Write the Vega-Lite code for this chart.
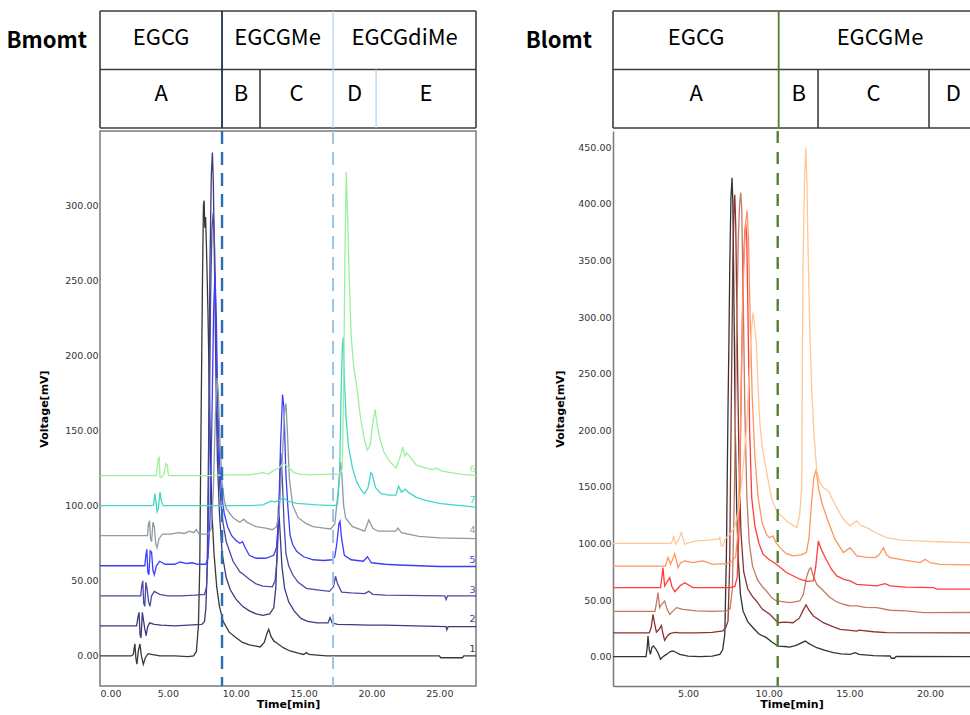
{
"$schema": "https://vega.github.io/schema/vega-lite/v6.json",
"background": "white",
"padding": {"left": 6, "top": 10, "right": 0, "bottom": 0},
"spacing": 48,
"resolve": {"scale": {"color": "independent"}},
"config": {"view": {"stroke": null}, "font": "DejaVu Sans"},
"datasets": {
"L": [
{"s":"1","t":0,"v":0},{"s":"1","t":2.3,"v":0},{"s":"1","t":2.45,"v":1},{"s":"1","t":2.57,"v":8},{"s":"1","t":2.65,"v":-2},{"s":"1","t":2.72,"v":-5.5},{"s":"1","t":2.82,"v":3},{"s":"1","t":2.94,"v":8},{"s":"1","t":3.05,"v":0},{"s":"1","t":3.19,"v":-5.5},{"s":"1","t":3.35,"v":-1},{"s":"1","t":3.55,"v":1.5},{"s":"1","t":3.8,"v":1},{"s":"1","t":4.4,"v":0},{"s":"1","t":5.5,"v":0},{"s":"1","t":6.5,"v":-0.5},{"s":"1","t":6.9,"v":0},{"s":"1","t":7.1,"v":3},{"s":"1","t":7.25,"v":20},{"s":"1","t":7.35,"v":60},{"s":"1","t":7.45,"v":160},{"s":"1","t":7.55,"v":250},{"s":"1","t":7.62,"v":300},{"s":"1","t":7.67,"v":303},{"s":"1","t":7.72,"v":285},{"s":"1","t":7.78,"v":292},{"s":"1","t":7.85,"v":270},{"s":"1","t":7.95,"v":230},{"s":"1","t":8.05,"v":180},{"s":"1","t":8.15,"v":130},{"s":"1","t":8.25,"v":95},{"s":"1","t":8.4,"v":68},{"s":"1","t":8.6,"v":46},{"s":"1","t":8.8,"v":33},{"s":"1","t":9.07,"v":23},{"s":"1","t":9.5,"v":16},{"s":"1","t":10.05,"v":12},{"s":"1","t":10.5,"v":9},{"s":"1","t":11.0,"v":7.3},{"s":"1","t":11.5,"v":6.5},{"s":"1","t":11.8,"v":6},{"s":"1","t":12.1,"v":9},{"s":"1","t":12.3,"v":15},{"s":"1","t":12.43,"v":17.7},{"s":"1","t":12.6,"v":13},{"s":"1","t":12.8,"v":10},{"s":"1","t":13.0,"v":8.8},{"s":"1","t":13.5,"v":5.5},{"s":"1","t":14.0,"v":3.3},{"s":"1","t":14.6,"v":1.8},{"s":"1","t":15.0,"v":1},{"s":"1","t":15.2,"v":2.2},{"s":"1","t":15.4,"v":1},{"s":"1","t":16.0,"v":0.5},{"s":"1","t":16.7,"v":0},{"s":"1","t":25.0,"v":0},{"s":"1","t":25.1,"v":-1.2},{"s":"1","t":26.7,"v":-1.2},{"s":"1","t":26.8,"v":0},{"s":"1","t":27.7,"v":0},
{"s":"2","t":0,"v":20},{"s":"2","t":2.7,"v":20},{"s":"2","t":2.8,"v":26},{"s":"2","t":2.88,"v":29},{"s":"2","t":2.95,"v":14},{"s":"2","t":3.02,"v":12},{"s":"2","t":3.12,"v":29},{"s":"2","t":3.2,"v":24},{"s":"2","t":3.3,"v":18},{"s":"2","t":3.4,"v":13.5},{"s":"2","t":3.5,"v":19},{"s":"2","t":3.65,"v":22},{"s":"2","t":4.0,"v":21},{"s":"2","t":4.5,"v":20.5},{"s":"2","t":5.5,"v":20},{"s":"2","t":6.5,"v":20.5},{"s":"2","t":7.5,"v":21},{"s":"2","t":7.7,"v":23},{"s":"2","t":7.8,"v":32},{"s":"2","t":7.9,"v":60},{"s":"2","t":8.0,"v":140},{"s":"2","t":8.1,"v":260},{"s":"2","t":8.2,"v":320},{"s":"2","t":8.28,"v":335},{"s":"2","t":8.35,"v":315},{"s":"2","t":8.45,"v":250},{"s":"2","t":8.55,"v":180},{"s":"2","t":8.65,"v":130},{"s":"2","t":8.8,"v":95},{"s":"2","t":9.0,"v":68},{"s":"2","t":9.3,"v":52},{"s":"2","t":9.6,"v":44},{"s":"2","t":10.0,"v":38},{"s":"2","t":10.5,"v":33},{"s":"2","t":11.0,"v":30},{"s":"2","t":11.5,"v":28},{"s":"2","t":12.0,"v":27},{"s":"2","t":12.5,"v":28},{"s":"2","t":12.8,"v":32},{"s":"2","t":12.95,"v":45},{"s":"2","t":13.05,"v":70},{"s":"2","t":13.15,"v":100},{"s":"2","t":13.25,"v":85},{"s":"2","t":13.4,"v":60},{"s":"2","t":13.6,"v":45},{"s":"2","t":13.9,"v":36},{"s":"2","t":14.3,"v":30},{"s":"2","t":14.8,"v":25},{"s":"2","t":15.3,"v":23},{"s":"2","t":16.0,"v":22},{"s":"2","t":16.8,"v":22},{"s":"2","t":16.95,"v":25.5},{"s":"2","t":17.1,"v":22},{"s":"2","t":17.5,"v":21},{"s":"2","t":18.5,"v":20.8},{"s":"2","t":19.8,"v":20.5},{"s":"2","t":21,"v":20.5},{"s":"2","t":25.5,"v":19.5},{"s":"2","t":25.55,"v":17.5},{"s":"2","t":25.65,"v":19.5},{"s":"2","t":27.7,"v":19.5},
{"s":"3","t":0,"v":40},{"s":"3","t":3.0,"v":40},{"s":"3","t":3.08,"v":47},{"s":"3","t":3.15,"v":50},{"s":"3","t":3.22,"v":35},{"s":"3","t":3.3,"v":33},{"s":"3","t":3.38,"v":49},{"s":"3","t":3.48,"v":44},{"s":"3","t":3.58,"v":36},{"s":"3","t":3.68,"v":33},{"s":"3","t":3.8,"v":40},{"s":"3","t":4.0,"v":43},{"s":"3","t":4.4,"v":41},{"s":"3","t":5,"v":40},{"s":"3","t":6,"v":40},{"s":"3","t":7,"v":40.5},{"s":"3","t":7.7,"v":41},{"s":"3","t":7.85,"v":46},{"s":"3","t":7.95,"v":70},{"s":"3","t":8.05,"v":150},{"s":"3","t":8.15,"v":240},{"s":"3","t":8.25,"v":285},{"s":"3","t":8.35,"v":295},{"s":"3","t":8.45,"v":270},{"s":"3","t":8.55,"v":210},{"s":"3","t":8.65,"v":150},{"s":"3","t":8.8,"v":115},{"s":"3","t":9.0,"v":92},{"s":"3","t":9.3,"v":76},{"s":"3","t":9.8,"v":63},{"s":"3","t":10.3,"v":56},{"s":"3","t":10.6,"v":54},{"s":"3","t":11.0,"v":51},{"s":"3","t":11.5,"v":48},{"s":"3","t":12.0,"v":46.5},{"s":"3","t":12.7,"v":46},{"s":"3","t":12.9,"v":50},{"s":"3","t":13.05,"v":65},{"s":"3","t":13.2,"v":100},{"s":"3","t":13.32,"v":135},{"s":"3","t":13.42,"v":120},{"s":"3","t":13.55,"v":90},{"s":"3","t":13.7,"v":68},{"s":"3","t":13.9,"v":60},{"s":"3","t":14.2,"v":54},{"s":"3","t":14.6,"v":49},{"s":"3","t":15.2,"v":45},{"s":"3","t":16.0,"v":44},{"s":"3","t":16.9,"v":43},{"s":"3","t":17.2,"v":46},{"s":"3","t":17.35,"v":53},{"s":"3","t":17.5,"v":48},{"s":"3","t":17.8,"v":42.5},{"s":"3","t":18.5,"v":42},{"s":"3","t":19.5,"v":41.5},{"s":"3","t":19.8,"v":43},{"s":"3","t":20.1,"v":41},{"s":"3","t":21,"v":40.5},{"s":"3","t":25.4,"v":40},{"s":"3","t":25.5,"v":37.5},{"s":"3","t":25.6,"v":40},{"s":"3","t":27.7,"v":40},
{"s":"5","t":0,"v":60},{"s":"5","t":3.3,"v":60},{"s":"5","t":3.38,"v":67},{"s":"5","t":3.45,"v":71},{"s":"5","t":3.52,"v":56},{"s":"5","t":3.6,"v":54},{"s":"5","t":3.7,"v":70},{"s":"5","t":3.8,"v":69},{"s":"5","t":3.9,"v":57},{"s":"5","t":4.0,"v":54},{"s":"5","t":4.15,"v":60},{"s":"5","t":4.4,"v":63},{"s":"5","t":4.8,"v":61},{"s":"5","t":5.5,"v":61},{"s":"5","t":5.9,"v":62.5},{"s":"5","t":6.4,"v":61.5},{"s":"5","t":6.8,"v":62},{"s":"5","t":7.2,"v":61},{"s":"5","t":7.8,"v":61},{"s":"5","t":7.95,"v":65},{"s":"5","t":8.1,"v":90},{"s":"5","t":8.25,"v":160},{"s":"5","t":8.37,"v":230},{"s":"5","t":8.47,"v":255},{"s":"5","t":8.57,"v":225},{"s":"5","t":8.67,"v":170},{"s":"5","t":8.8,"v":130},{"s":"5","t":8.95,"v":108},{"s":"5","t":9.15,"v":95},{"s":"5","t":9.4,"v":86},{"s":"5","t":9.7,"v":80},{"s":"5","t":10.0,"v":77},{"s":"5","t":10.3,"v":75},{"s":"5","t":10.5,"v":76},{"s":"5","t":10.7,"v":72},{"s":"5","t":11.0,"v":67},{"s":"5","t":11.5,"v":65},{"s":"5","t":12.2,"v":65},{"s":"5","t":12.8,"v":67},{"s":"5","t":13.0,"v":72},{"s":"5","t":13.15,"v":90},{"s":"5","t":13.3,"v":140},{"s":"5","t":13.45,"v":174},{"s":"5","t":13.55,"v":165},{"s":"5","t":13.7,"v":120},{"s":"5","t":13.85,"v":98},{"s":"5","t":14.0,"v":80.5},{"s":"5","t":14.2,"v":74},{"s":"5","t":14.5,"v":69.5},{"s":"5","t":15.0,"v":66},{"s":"5","t":15.7,"v":64},{"s":"5","t":16.5,"v":63.5},{"s":"5","t":17.1,"v":64},{"s":"5","t":17.3,"v":66},{"s":"5","t":17.45,"v":75},{"s":"5","t":17.6,"v":88},{"s":"5","t":17.68,"v":89.5},{"s":"5","t":17.8,"v":78},{"s":"5","t":18.0,"v":67},{"s":"5","t":18.5,"v":64},{"s":"5","t":19.4,"v":63},{"s":"5","t":19.7,"v":66},{"s":"5","t":20.0,"v":62},{"s":"5","t":21,"v":61},{"s":"5","t":22,"v":60.5},{"s":"5","t":23.5,"v":60},{"s":"5","t":25,"v":59.5},{"s":"5","t":27.7,"v":59.5},
{"s":"4","t":0,"v":80},{"s":"4","t":3.5,"v":80},{"s":"4","t":3.58,"v":88},{"s":"4","t":3.65,"v":90},{"s":"4","t":3.72,"v":78},{"s":"4","t":3.8,"v":76},{"s":"4","t":3.9,"v":89},{"s":"4","t":4.0,"v":86},{"s":"4","t":4.1,"v":75},{"s":"4","t":4.2,"v":72},{"s":"4","t":4.35,"v":78},{"s":"4","t":4.6,"v":81},{"s":"4","t":5.2,"v":81},{"s":"4","t":5.8,"v":82},{"s":"4","t":6.2,"v":81.5},{"s":"4","t":6.6,"v":83},{"s":"4","t":6.9,"v":82},{"s":"4","t":7.1,"v":84},{"s":"4","t":7.3,"v":81},{"s":"4","t":8.0,"v":81},{"s":"4","t":8.2,"v":85},{"s":"4","t":8.35,"v":110},{"s":"4","t":8.5,"v":160},{"s":"4","t":8.62,"v":185},{"s":"4","t":8.72,"v":175},{"s":"4","t":8.85,"v":140},{"s":"4","t":9.0,"v":115},{"s":"4","t":9.15,"v":104},{"s":"4","t":9.3,"v":98},{"s":"4","t":9.8,"v":92},{"s":"4","t":10.3,"v":89},{"s":"4","t":10.6,"v":91},{"s":"4","t":10.8,"v":89},{"s":"4","t":11.5,"v":86},{"s":"4","t":12.2,"v":85},{"s":"4","t":12.7,"v":84},{"s":"4","t":13.0,"v":86},{"s":"4","t":13.2,"v":95},{"s":"4","t":13.45,"v":135},{"s":"4","t":13.6,"v":162},{"s":"4","t":13.7,"v":168},{"s":"4","t":13.8,"v":150},{"s":"4","t":13.95,"v":118},{"s":"4","t":14.2,"v":100},{"s":"4","t":14.6,"v":92},{"s":"4","t":15.2,"v":88},{"s":"4","t":15.7,"v":86},{"s":"4","t":16.5,"v":85},{"s":"4","t":17.0,"v":84.5},{"s":"4","t":17.3,"v":88},{"s":"4","t":17.55,"v":110},{"s":"4","t":17.72,"v":129},{"s":"4","t":17.82,"v":120},{"s":"4","t":17.95,"v":100},{"s":"4","t":18.1,"v":91.6},{"s":"4","t":18.6,"v":86},{"s":"4","t":19.5,"v":83},{"s":"4","t":19.8,"v":90.5},{"s":"4","t":20.1,"v":85},{"s":"4","t":20.5,"v":83},{"s":"4","t":21.8,"v":83},{"s":"4","t":21.95,"v":85},{"s":"4","t":22.2,"v":82},{"s":"4","t":23.5,"v":79.5},{"s":"4","t":25,"v":78.5},{"s":"4","t":27.7,"v":78},
{"s":"7","t":0,"v":100},{"s":"7","t":3.8,"v":100},{"s":"7","t":3.95,"v":100.5},{"s":"7","t":4.05,"v":108},{"s":"7","t":4.12,"v":103},{"s":"7","t":4.2,"v":96},{"s":"7","t":4.3,"v":98},{"s":"7","t":4.42,"v":109},{"s":"7","t":4.52,"v":103},{"s":"7","t":4.65,"v":100},{"s":"7","t":5.5,"v":100},{"s":"7","t":7,"v":100},{"s":"7","t":8.5,"v":100},{"s":"7","t":9.5,"v":100},{"s":"7","t":11.0,"v":100},{"s":"7","t":12.0,"v":100.5},{"s":"7","t":12.6,"v":103},{"s":"7","t":12.9,"v":102.5},{"s":"7","t":13.3,"v":104},{"s":"7","t":13.5,"v":105.5},{"s":"7","t":13.8,"v":103},{"s":"7","t":14.5,"v":101.5},{"s":"7","t":16.0,"v":100.5},{"s":"7","t":17.3,"v":100},{"s":"7","t":17.5,"v":101},{"s":"7","t":17.65,"v":120},{"s":"7","t":17.75,"v":170},{"s":"7","t":17.85,"v":205},{"s":"7","t":17.92,"v":212},{"s":"7","t":18.0,"v":185},{"s":"7","t":18.13,"v":158},{"s":"7","t":18.3,"v":140},{"s":"7","t":18.6,"v":125},{"s":"7","t":18.9,"v":116},{"s":"7","t":19.2,"v":111},{"s":"7","t":19.5,"v":108},{"s":"7","t":19.75,"v":112},{"s":"7","t":19.95,"v":122},{"s":"7","t":20.05,"v":121},{"s":"7","t":20.3,"v":112},{"s":"7","t":20.7,"v":108},{"s":"7","t":21.3,"v":107},{"s":"7","t":21.8,"v":107},{"s":"7","t":22.0,"v":113},{"s":"7","t":22.2,"v":109},{"s":"7","t":22.5,"v":111},{"s":"7","t":22.7,"v":109},{"s":"7","t":23.3,"v":105.5},{"s":"7","t":24.0,"v":103.5},{"s":"7","t":25.0,"v":101.5},{"s":"7","t":26,"v":100.5},{"s":"7","t":27.7,"v":99},
{"s":"6","t":0,"v":120},{"s":"6","t":4.15,"v":120},{"s":"6","t":4.28,"v":131},{"s":"6","t":4.36,"v":132},{"s":"6","t":4.42,"v":119},{"s":"6","t":4.55,"v":119},{"s":"6","t":4.72,"v":121},{"s":"6","t":4.85,"v":128},{"s":"6","t":4.95,"v":127},{"s":"6","t":5.05,"v":120},{"s":"6","t":6,"v":120},{"s":"6","t":8,"v":120},{"s":"6","t":9.5,"v":120.5},{"s":"6","t":11,"v":120.5},{"s":"6","t":12.0,"v":122},{"s":"6","t":12.4,"v":121},{"s":"6","t":12.8,"v":123.5},{"s":"6","t":13.2,"v":125},{"s":"6","t":13.5,"v":128.5},{"s":"6","t":13.8,"v":126},{"s":"6","t":14.3,"v":122},{"s":"6","t":14.7,"v":121},{"s":"6","t":15.5,"v":120.5},{"s":"6","t":17.1,"v":121},{"s":"6","t":17.7,"v":121},{"s":"6","t":17.85,"v":125},{"s":"6","t":17.95,"v":180},{"s":"6","t":18.05,"v":270},{"s":"6","t":18.14,"v":322},{"s":"6","t":18.22,"v":300},{"s":"6","t":18.35,"v":255},{"s":"6","t":18.5,"v":213},{"s":"6","t":18.7,"v":192},{"s":"6","t":18.9,"v":180},{"s":"6","t":19.2,"v":158},{"s":"6","t":19.5,"v":143},{"s":"6","t":19.7,"v":137},{"s":"6","t":19.9,"v":140},{"s":"6","t":20.1,"v":155},{"s":"6","t":20.27,"v":164},{"s":"6","t":20.45,"v":152},{"s":"6","t":20.6,"v":145},{"s":"6","t":20.9,"v":136},{"s":"6","t":21.3,"v":130},{"s":"6","t":21.8,"v":125},{"s":"6","t":22.1,"v":132},{"s":"6","t":22.3,"v":139},{"s":"6","t":22.45,"v":133},{"s":"6","t":22.6,"v":135},{"s":"6","t":22.8,"v":133},{"s":"6","t":23.3,"v":127},{"s":"6","t":24.0,"v":125},{"s":"6","t":24.5,"v":124},{"s":"6","t":24.75,"v":125},{"s":"6","t":25.2,"v":123},{"s":"6","t":26.5,"v":121},{"s":"6","t":27.7,"v":120}
],
"R": [
{"s":"R0","t":0.35,"v":0},{"s":"R0","t":2.4,"v":0},{"s":"R0","t":2.47,"v":8},{"s":"R0","t":2.52,"v":18.3},{"s":"R0","t":2.6,"v":6},{"s":"R0","t":2.67,"v":2},{"s":"R0","t":2.76,"v":8},{"s":"R0","t":2.85,"v":9.5},{"s":"R0","t":3.0,"v":7},{"s":"R0","t":3.15,"v":3},{"s":"R0","t":3.3,"v":-2.3},{"s":"R0","t":3.45,"v":0},{"s":"R0","t":3.66,"v":2},{"s":"R0","t":3.9,"v":4.5},{"s":"R0","t":4.07,"v":5},{"s":"R0","t":4.3,"v":3.5},{"s":"R0","t":4.49,"v":2},{"s":"R0","t":5.0,"v":0.5},{"s":"R0","t":5.73,"v":0},{"s":"R0","t":6.5,"v":0.5},{"s":"R0","t":6.97,"v":2},{"s":"R0","t":7.15,"v":6},{"s":"R0","t":7.28,"v":19.8},{"s":"R0","t":7.38,"v":90},{"s":"R0","t":7.48,"v":220},{"s":"R0","t":7.53,"v":272},{"s":"R0","t":7.59,"v":346},{"s":"R0","t":7.66,"v":405},{"s":"R0","t":7.73,"v":423},{"s":"R0","t":7.78,"v":400},{"s":"R0","t":7.85,"v":310},{"s":"R0","t":7.93,"v":200},{"s":"R0","t":8.02,"v":130},{"s":"R0","t":8.12,"v":85},{"s":"R0","t":8.25,"v":55},{"s":"R0","t":8.41,"v":40.4},{"s":"R0","t":8.7,"v":31},{"s":"R0","t":9.03,"v":25.6},{"s":"R0","t":9.4,"v":20},{"s":"R0","t":9.86,"v":16.8},{"s":"R0","t":10.2,"v":13},{"s":"R0","t":10.58,"v":9.4},{"s":"R0","t":11.0,"v":9},{"s":"R0","t":11.3,"v":8.5},{"s":"R0","t":11.7,"v":10},{"s":"R0","t":12.0,"v":12},{"s":"R0","t":12.26,"v":13.8},{"s":"R0","t":12.5,"v":11.5},{"s":"R0","t":12.98,"v":7.9},{"s":"R0","t":13.5,"v":5.5},{"s":"R0","t":14.01,"v":3.5},{"s":"R0","t":14.5,"v":2.5},{"s":"R0","t":15.05,"v":2.1},{"s":"R0","t":15.36,"v":3.5},{"s":"R0","t":15.6,"v":2},{"s":"R0","t":16.5,"v":1},{"s":"R0","t":17.53,"v":0.6},{"s":"R0","t":17.6,"v":-1.4},{"s":"R0","t":17.8,"v":-1.4},{"s":"R0","t":17.9,"v":0.3},{"s":"R0","t":22.5,"v":0},
{"s":"R20","t":0.35,"v":21},{"s":"R20","t":2.6,"v":21},{"s":"R20","t":2.72,"v":26},{"s":"R20","t":2.83,"v":37.4},{"s":"R20","t":2.92,"v":30},{"s":"R20","t":3.04,"v":21.6},{"s":"R20","t":3.2,"v":24},{"s":"R20","t":3.35,"v":27.5},{"s":"R20","t":3.45,"v":20},{"s":"R20","t":3.55,"v":14.4},{"s":"R20","t":3.7,"v":18},{"s":"R20","t":3.87,"v":20.3},{"s":"R20","t":4.2,"v":21.5},{"s":"R20","t":4.49,"v":21},{"s":"R20","t":5.5,"v":21},{"s":"R20","t":6.5,"v":21.5},{"s":"R20","t":7.17,"v":22.8},{"s":"R20","t":7.35,"v":26},{"s":"R20","t":7.48,"v":31.6},{"s":"R20","t":7.58,"v":80},{"s":"R20","t":7.68,"v":220},{"s":"R20","t":7.78,"v":350},{"s":"R20","t":7.86,"v":400},{"s":"R20","t":7.9,"v":408},{"s":"R20","t":7.96,"v":380},{"s":"R20","t":8.05,"v":280},{"s":"R20","t":8.15,"v":180},{"s":"R20","t":8.28,"v":110},{"s":"R20","t":8.45,"v":75},{"s":"R20","t":8.7,"v":60},{"s":"R20","t":9.0,"v":53},{"s":"R20","t":9.24,"v":49.2},{"s":"R20","t":9.6,"v":42},{"s":"R20","t":10.07,"v":37.4},{"s":"R20","t":10.58,"v":30},{"s":"R20","t":11.0,"v":30.5},{"s":"R20","t":11.51,"v":30},{"s":"R20","t":11.9,"v":34},{"s":"R20","t":12.1,"v":40},{"s":"R20","t":12.32,"v":45.7},{"s":"R20","t":12.5,"v":41},{"s":"R20","t":12.77,"v":36},{"s":"R20","t":13.39,"v":30},{"s":"R20","t":13.9,"v":27},{"s":"R20","t":14.43,"v":24.1},{"s":"R20","t":14.9,"v":23.5},{"s":"R20","t":15.46,"v":22.6},{"s":"R20","t":15.6,"v":23.5},{"s":"R20","t":16.5,"v":22},{"s":"R20","t":17.32,"v":21.2},{"s":"R20","t":22.5,"v":21},
{"s":"R40","t":0.35,"v":40},{"s":"R40","t":2.95,"v":40},{"s":"R40","t":3.05,"v":48},{"s":"R40","t":3.14,"v":56.5},{"s":"R40","t":3.24,"v":43.3},{"s":"R40","t":3.35,"v":46},{"s":"R40","t":3.55,"v":49.2},{"s":"R40","t":3.7,"v":42},{"s":"R40","t":3.87,"v":37.4},{"s":"R40","t":4.05,"v":40},{"s":"R40","t":4.28,"v":43.3},{"s":"R40","t":4.69,"v":41.8},{"s":"R40","t":5.5,"v":40.5},{"s":"R40","t":6.5,"v":40},{"s":"R40","t":7.38,"v":40.4},{"s":"R40","t":7.6,"v":42},{"s":"R40","t":7.75,"v":60},{"s":"R40","t":7.88,"v":150},{"s":"R40","t":8.0,"v":280},{"s":"R40","t":8.12,"v":370},{"s":"R40","t":8.2,"v":400},{"s":"R40","t":8.27,"v":410},{"s":"R40","t":8.33,"v":395},{"s":"R40","t":8.42,"v":320},{"s":"R40","t":8.52,"v":220},{"s":"R40","t":8.65,"v":140},{"s":"R40","t":8.8,"v":100},{"s":"R40","t":9.0,"v":80},{"s":"R40","t":9.3,"v":68},{"s":"R40","t":9.6,"v":62},{"s":"R40","t":9.86,"v":58},{"s":"R40","t":10.2,"v":52},{"s":"R40","t":10.48,"v":49.2},{"s":"R40","t":11.3,"v":47.7},{"s":"R40","t":11.93,"v":49.2},{"s":"R40","t":12.15,"v":55},{"s":"R40","t":12.34,"v":69.8},{"s":"R40","t":12.5,"v":77},{"s":"R40","t":12.61,"v":78.6},{"s":"R40","t":12.75,"v":72},{"s":"R40","t":12.98,"v":63.9},{"s":"R40","t":13.29,"v":59.5},{"s":"R40","t":13.8,"v":52.2},{"s":"R40","t":14.2,"v":48.5},{"s":"R40","t":14.63,"v":46.3},{"s":"R40","t":15.0,"v":45},{"s":"R40","t":15.46,"v":44.8},{"s":"R40","t":16.0,"v":43.5},{"s":"R40","t":16.7,"v":43.3},{"s":"R40","t":17.53,"v":41},{"s":"R40","t":18.5,"v":40.5},{"s":"R40","t":19.6,"v":38.9},{"s":"R40","t":22.5,"v":39},
{"s":"R60","t":0.35,"v":61},{"s":"R60","t":3.3,"v":61},{"s":"R60","t":3.38,"v":70},{"s":"R60","t":3.45,"v":78.6},{"s":"R60","t":3.55,"v":62.4},{"s":"R60","t":3.7,"v":66},{"s":"R60","t":3.87,"v":69.8},{"s":"R60","t":4.0,"v":62},{"s":"R60","t":4.18,"v":57.4},{"s":"R60","t":4.35,"v":60},{"s":"R60","t":4.49,"v":62.4},{"s":"R60","t":4.8,"v":65.3},{"s":"R60","t":5.31,"v":61},{"s":"R60","t":6.5,"v":61},{"s":"R60","t":7.6,"v":61},{"s":"R60","t":7.9,"v":62},{"s":"R60","t":8.05,"v":70},{"s":"R60","t":8.18,"v":120},{"s":"R60","t":8.3,"v":240},{"s":"R60","t":8.42,"v":340},{"s":"R60","t":8.52,"v":375},{"s":"R60","t":8.58,"v":382},{"s":"R60","t":8.64,"v":370},{"s":"R60","t":8.72,"v":300},{"s":"R60","t":8.82,"v":200},{"s":"R60","t":8.95,"v":140},{"s":"R60","t":9.15,"v":115},{"s":"R60","t":9.4,"v":100},{"s":"R60","t":9.65,"v":90.5},{"s":"R60","t":10.0,"v":86},{"s":"R60","t":10.48,"v":81.6},{"s":"R60","t":11.1,"v":74.3},{"s":"R60","t":11.93,"v":68.4},{"s":"R60","t":12.4,"v":66.5},{"s":"R60","t":12.77,"v":66.9},{"s":"R60","t":12.92,"v":80},{"s":"R60","t":13.08,"v":102.2},{"s":"R60","t":13.25,"v":95},{"s":"R60","t":13.56,"v":86},{"s":"R60","t":13.9,"v":77},{"s":"R60","t":14.22,"v":71.3},{"s":"R60","t":14.7,"v":68},{"s":"R60","t":15.05,"v":66.9},{"s":"R60","t":15.46,"v":63.9},{"s":"R60","t":16.7,"v":62.5},{"s":"R60","t":17.22,"v":64.5},{"s":"R60","t":17.53,"v":62.5},{"s":"R60","t":18.5,"v":61.5},{"s":"R60","t":20.22,"v":61},{"s":"R60","t":20.42,"v":59.6},{"s":"R60","t":22.5,"v":59.6},
{"s":"R80","t":0.35,"v":80},{"s":"R80","t":3.6,"v":80},{"s":"R80","t":3.68,"v":84},{"s":"R80","t":3.76,"v":87.5},{"s":"R80","t":3.91,"v":81.6},{"s":"R80","t":4.05,"v":86},{"s":"R80","t":4.18,"v":91},{"s":"R80","t":4.38,"v":78.6},{"s":"R80","t":4.55,"v":83},{"s":"R80","t":4.8,"v":84.5},{"s":"R80","t":5.31,"v":83},{"s":"R80","t":5.6,"v":84},{"s":"R80","t":5.93,"v":84.5},{"s":"R80","t":6.55,"v":81.6},{"s":"R80","t":7.0,"v":82},{"s":"R80","t":7.38,"v":82},{"s":"R80","t":7.7,"v":84},{"s":"R80","t":7.95,"v":88},{"s":"R80","t":8.1,"v":110},{"s":"R80","t":8.25,"v":200},{"s":"R80","t":8.4,"v":320},{"s":"R80","t":8.55,"v":380},{"s":"R80","t":8.66,"v":394},{"s":"R80","t":8.75,"v":370},{"s":"R80","t":8.85,"v":300},{"s":"R80","t":8.98,"v":230},{"s":"R80","t":9.15,"v":175},{"s":"R80","t":9.35,"v":140},{"s":"R80","t":9.6,"v":118},{"s":"R80","t":9.86,"v":108},{"s":"R80","t":10.05,"v":105},{"s":"R80","t":10.27,"v":106.6},{"s":"R80","t":10.45,"v":101},{"s":"R80","t":10.69,"v":96.3},{"s":"R80","t":11.1,"v":91},{"s":"R80","t":11.51,"v":89},{"s":"R80","t":12.0,"v":90},{"s":"R80","t":12.34,"v":92},{"s":"R80","t":12.5,"v":105},{"s":"R80","t":12.65,"v":135},{"s":"R80","t":12.8,"v":158},{"s":"R80","t":12.94,"v":165.5},{"s":"R80","t":13.1,"v":148},{"s":"R80","t":13.29,"v":136.2},{"s":"R80","t":13.6,"v":122.9},{"s":"R80","t":14.1,"v":104},{"s":"R80","t":14.63,"v":91.9},{"s":"R80","t":15.05,"v":96.3},{"s":"R80","t":15.46,"v":89},{"s":"R80","t":16.0,"v":88},{"s":"R80","t":16.6,"v":87.5},{"s":"R80","t":16.85,"v":90},{"s":"R80","t":17.11,"v":96.3},{"s":"R80","t":17.3,"v":90},{"s":"R80","t":17.53,"v":87.5},{"s":"R80","t":18.5,"v":85},{"s":"R80","t":19.4,"v":83.1},{"s":"R80","t":19.7,"v":86},{"s":"R80","t":20.0,"v":83},{"s":"R80","t":20.63,"v":81.6},{"s":"R80","t":22.5,"v":81},
{"s":"R100","t":0.35,"v":100},{"s":"R100","t":3.95,"v":100},{"s":"R100","t":4.05,"v":103},{"s":"R100","t":4.11,"v":106.6},{"s":"R100","t":4.24,"v":99.3},{"s":"R100","t":4.4,"v":103},{"s":"R100","t":4.59,"v":109.5},{"s":"R100","t":4.8,"v":99.3},{"s":"R100","t":5.1,"v":101},{"s":"R100","t":5.52,"v":102.2},{"s":"R100","t":6.3,"v":103},{"s":"R100","t":6.9,"v":104},{"s":"R100","t":6.97,"v":105.2},{"s":"R100","t":7.05,"v":98},{"s":"R100","t":7.17,"v":97.8},{"s":"R100","t":7.3,"v":104},{"s":"R100","t":7.6,"v":108},{"s":"R100","t":7.9,"v":115},{"s":"R100","t":8.15,"v":130},{"s":"R100","t":8.4,"v":165},{"s":"R100","t":8.62,"v":200},{"s":"R100","t":8.72,"v":229},{"s":"R100","t":8.83,"v":258},{"s":"R100","t":8.93,"v":287.7},{"s":"R100","t":9.03,"v":303.9},{"s":"R100","t":9.13,"v":292},{"s":"R100","t":9.24,"v":276},{"s":"R100","t":9.34,"v":240},{"s":"R100","t":9.44,"v":208},{"s":"R100","t":9.6,"v":185},{"s":"R100","t":9.86,"v":164},{"s":"R100","t":10.17,"v":140.6},{"s":"R100","t":10.48,"v":128.7},{"s":"R100","t":11.1,"v":119.9},{"s":"R100","t":11.74,"v":114},{"s":"R100","t":11.92,"v":125},{"s":"R100","t":12.05,"v":149.3},{"s":"R100","t":12.09,"v":258},{"s":"R100","t":12.13,"v":346.6},{"s":"R100","t":12.22,"v":420},{"s":"R100","t":12.3,"v":449.7},{"s":"R100","t":12.37,"v":420},{"s":"R100","t":12.44,"v":361},{"s":"R100","t":12.55,"v":288},{"s":"R100","t":12.67,"v":235},{"s":"R100","t":12.82,"v":195},{"s":"R100","t":12.98,"v":164},{"s":"R100","t":13.2,"v":153},{"s":"R100","t":13.39,"v":149.3},{"s":"R100","t":13.7,"v":146.4},{"s":"R100","t":13.95,"v":139},{"s":"R100","t":14.22,"v":131.6},{"s":"R100","t":14.6,"v":122},{"s":"R100","t":15.05,"v":115.4},{"s":"R100","t":15.25,"v":118},{"s":"R100","t":15.46,"v":119.9},{"s":"R100","t":15.7,"v":116},{"s":"R100","t":16.08,"v":114},{"s":"R100","t":16.7,"v":109},{"s":"R100","t":17.32,"v":105.2},{"s":"R100","t":18.2,"v":103},{"s":"R100","t":19.18,"v":102.2},{"s":"R100","t":20.5,"v":101.5},{"s":"R100","t":22.5,"v":100.8}
]
},
"hconcat": [
{
"spacing": 0,
"vconcat": [
{
"width": 376, "height": 117,
"layer": [
{"data": {"values": [{"y": 0}, {"y": 1}, {"y": 2}]},
 "mark": {"type": "rule", "color": "#3d3d3d", "strokeWidth": 1.6},
 "encoding": {"y": {"field": "y", "type": "quantitative", "scale": {"domain": [0, 2], "reverse": true, "nice": false, "zero": false}, "axis": null}}},
{"data": {"values": [{"x": 0, "y0": 0, "y1": 2}, {"x": 27.7, "y0": 0, "y1": 2}, {"x": 11.79, "y0": 1, "y1": 2}]},
 "mark": {"type": "rule", "color": "#3d3d3d", "strokeWidth": 1.6},
 "encoding": {"x": {"field": "x", "type": "quantitative", "scale": {"domain": [0, 27.7], "nice": false, "zero": false}, "axis": null}, "y": {"field": "y0", "type": "quantitative"}, "y2": {"field": "y1"}}},
{"data": {"values": [{"x": 8.99, "y0": 0, "y1": 2}]},
 "mark": {"type": "rule", "color": "#22304f", "strokeWidth": 1.8},
 "encoding": {"x": {"field": "x", "type": "quantitative"}, "y": {"field": "y0", "type": "quantitative"}, "y2": {"field": "y1"}}},
{"data": {"values": [{"x": 17.17, "y0": 0, "y1": 2}, {"x": 20.34, "y0": 1, "y1": 2}]},
 "mark": {"type": "rule", "color": "#b4d0ec", "strokeWidth": 1.2},
 "encoding": {"x": {"field": "x", "type": "quantitative"}, "y": {"field": "y0", "type": "quantitative"}, "y2": {"field": "y1"}}},
{"data": {"values": [{"xm": 4.5, "y": 0.46, "lab": "EGCG"}, {"xm": 13.08, "y": 0.46, "lab": "EGCGMe"}, {"xm": 22.44, "y": 0.46, "lab": "EGCGdiMe"}, {"xm": 4.5, "y": 1.42, "lab": "A"}, {"xm": 10.39, "y": 1.42, "lab": "B"}, {"xm": 14.48, "y": 1.42, "lab": "C"}, {"xm": 18.76, "y": 1.42, "lab": "D"}, {"xm": 24.02, "y": 1.42, "lab": "E"}]},
 "mark": {"type": "text", "font": "Noto Sans CJK KR", "fontSize": 22, "color": "#000000", "baseline": "middle", "align": "center"},
 "encoding": {"x": {"field": "xm", "type": "quantitative"}, "y": {"field": "y", "type": "quantitative"}, "text": {"field": "lab"}}},
{"data": {"values": [{"x": 0, "y": 0.51, "lab": "Bmomt"}]},
 "mark": {"type": "text", "font": "Noto Sans CJK KR", "fontSize": 22, "fontWeight": "bold", "color": "#000000", "baseline": "middle", "align": "right", "dx": -13},
 "encoding": {"x": {"field": "x", "type": "quantitative"}, "y": {"field": "y", "type": "quantitative"}, "text": {"field": "lab"}}}
]
},
{
"width": 376, "height": 555,
"view": {"stroke": "#7a7a7a", "strokeWidth": 1.5},
"layer": [
{"data": {"name": "L"},
 "mark": {"type": "line", "strokeWidth": 1.3, "clip": true},
 "encoding": {
  "x": {"field": "t", "type": "quantitative", "scale": {"domain": [0, 27.7], "nice": false, "zero": false},
        "axis": {"title": "Time[min]", "values": [0, 5, 10, 15, 20, 25], "format": ".2f", "grid": false, "domain": false, "ticks": false, "labelFont": "DejaVu Sans", "labelFontSize": 9.5, "labelColor": "#333333", "labelPadding": 2, "titleFont": "DejaVu Sans", "titleFontSize": 11, "titleFontWeight": "bold", "titleColor": "#000000", "titlePadding": 1}},
  "y": {"field": "v", "type": "quantitative", "scale": {"domain": [-20, 349.3], "nice": false, "zero": false},
        "axis": {"title": "Voltage[mV]", "values": [0, 50, 100, 150, 200, 250, 300], "format": ".2f", "grid": false, "domain": false, "ticks": false, "labelFont": "DejaVu Sans", "labelFontSize": 9.5, "labelColor": "#333333", "labelPadding": 2, "titleFont": "DejaVu Sans", "titleFontSize": 11, "titleFontWeight": "bold", "titleColor": "#000000", "titlePadding": 15}},
  "color": {"field": "s", "type": "nominal", "legend": null, "scale": {"domain": ["1", "2", "3", "5", "4", "7", "6"], "range": ["#383838", "#3b3b7d", "#4b4ba5", "#3d3dfa", "#8d9ba3", "#45d6c6", "#9cf09c"]}},
  "detail": {"field": "s"}
 }},
{"data": {"values": [{"t": 8.99}]},
 "mark": {"type": "rule", "color": "#2a6fb5", "strokeWidth": 2.4, "strokeDash": [13, 8]},
 "encoding": {"x": {"field": "t", "type": "quantitative"}}},
{"data": {"values": [{"t": 17.17}]},
 "mark": {"type": "rule", "color": "#9cc4e8", "strokeWidth": 2, "strokeDash": [13, 8]},
 "encoding": {"x": {"field": "t", "type": "quantitative"}}},
{"data": {"values": [{"s": "1", "t": 27.45, "v": 4.5}, {"s": "2", "t": 27.45, "v": 24.5}, {"s": "3", "t": 27.45, "v": 44}, {"s": "5", "t": 27.45, "v": 64}, {"s": "4", "t": 27.45, "v": 84}, {"s": "7", "t": 27.45, "v": 104}, {"s": "6", "t": 27.45, "v": 124.5}]},
 "mark": {"type": "text", "fontSize": 9.5, "baseline": "middle", "align": "center"},
 "encoding": {"x": {"field": "t", "type": "quantitative"}, "y": {"field": "v", "type": "quantitative"}, "text": {"field": "s"}, "color": {"field": "s", "type": "nominal", "legend": null}}}
]
}
]
},
{
"spacing": 0,
"vconcat": [
{
"width": 357, "height": 117,
"layer": [
{"data": {"values": [{"y": 0}, {"y": 1}, {"y": 2}]},
 "mark": {"type": "rule", "color": "#3d3d3d", "strokeWidth": 1.6},
 "encoding": {"y": {"field": "y", "type": "quantitative", "scale": {"domain": [0, 2], "reverse": true, "nice": false, "zero": false}, "axis": null}}},
{"data": {"values": [{"x": 0.35, "y0": 0, "y1": 2}, {"x": 13.06, "y0": 1, "y1": 2}, {"x": 19.94, "y0": 1, "y1": 2}]},
 "mark": {"type": "rule", "color": "#3d3d3d", "strokeWidth": 1.6},
 "encoding": {"x": {"field": "x", "type": "quantitative", "scale": {"domain": [0.35, 22.48], "nice": false, "zero": false}, "axis": null}, "y": {"field": "y0", "type": "quantitative"}, "y2": {"field": "y1"}}},
{"data": {"values": [{"x": 10.62, "y0": 0, "y1": 2}]},
 "mark": {"type": "rule", "color": "#4f7f30", "strokeWidth": 1.8},
 "encoding": {"x": {"field": "x", "type": "quantitative"}, "y": {"field": "y0", "type": "quantitative"}, "y2": {"field": "y1"}}},
{"data": {"values": [{"xm": 5.5, "y": 0.46, "lab": "EGCG"}, {"xm": 16.9, "y": 0.46, "lab": "EGCGMe"}, {"xm": 5.5, "y": 1.42, "lab": "A"}, {"xm": 11.86, "y": 1.42, "lab": "B"}, {"xm": 16.5, "y": 1.42, "lab": "C"}, {"xm": 21.45, "y": 1.42, "lab": "D"}]},
 "mark": {"type": "text", "font": "Noto Sans CJK KR", "fontSize": 22, "color": "#000000", "baseline": "middle", "align": "center"},
 "encoding": {"x": {"field": "xm", "type": "quantitative"}, "y": {"field": "y", "type": "quantitative"}, "text": {"field": "lab"}}},
{"data": {"values": [{"x": 0.35, "y": 0.51, "lab": "Blomt"}]},
 "mark": {"type": "text", "font": "Noto Sans CJK KR", "fontSize": 22, "fontWeight": "bold", "color": "#000000", "baseline": "middle", "align": "right", "dx": -21},
 "encoding": {"x": {"field": "x", "type": "quantitative"}, "y": {"field": "y", "type": "quantitative"}, "text": {"field": "lab"}}}
]
},
{
"width": 357, "height": 555,
"layer": [
{"data": {"name": "R"},
 "mark": {"type": "line", "strokeWidth": 1.3, "clip": true},
 "encoding": {
  "x": {"field": "t", "type": "quantitative", "scale": {"domain": [0.35, 22.48], "nice": false, "zero": false},
        "axis": {"title": "Time[min]", "values": [5, 10, 15, 20], "format": ".2f", "grid": false, "domain": true, "domainColor": "#7a7a7a", "domainWidth": 1.5, "ticks": false, "labelFont": "DejaVu Sans", "labelFontSize": 9.5, "labelColor": "#333333", "labelPadding": 2, "titleFont": "DejaVu Sans", "titleFontSize": 11, "titleFontWeight": "bold", "titleColor": "#000000", "titlePadding": 1}},
  "y": {"field": "v", "type": "quantitative", "scale": {"domain": [-25.9, 464.3], "nice": false, "zero": false},
        "axis": {"title": "Voltage[mV]", "values": [0, 50, 100, 150, 200, 250, 300, 350, 400, 450], "format": ".2f", "grid": false, "domain": true, "domainColor": "#7a7a7a", "domainWidth": 1.5, "ticks": false, "labelFont": "DejaVu Sans", "labelFontSize": 9.5, "labelColor": "#333333", "labelPadding": 2, "titleFont": "DejaVu Sans", "titleFontSize": 11, "titleFontWeight": "bold", "titleColor": "#000000", "titlePadding": 12}},
  "color": {"field": "s", "type": "nominal", "legend": null, "scale": {"domain": ["R0", "R20", "R40", "R60", "R80", "R100"], "range": ["#333333", "#8c3333", "#c47a66", "#ff3d3d", "#ff9560", "#ffc896"]}},
  "detail": {"field": "s"}
 }},
{"data": {"values": [{"t": 10.56}]},
 "mark": {"type": "rule", "color": "#548235", "strokeWidth": 2.4, "strokeDash": [12, 9]},
 "encoding": {"x": {"field": "t", "type": "quantitative"}}}
]
}
]
}
]
}
